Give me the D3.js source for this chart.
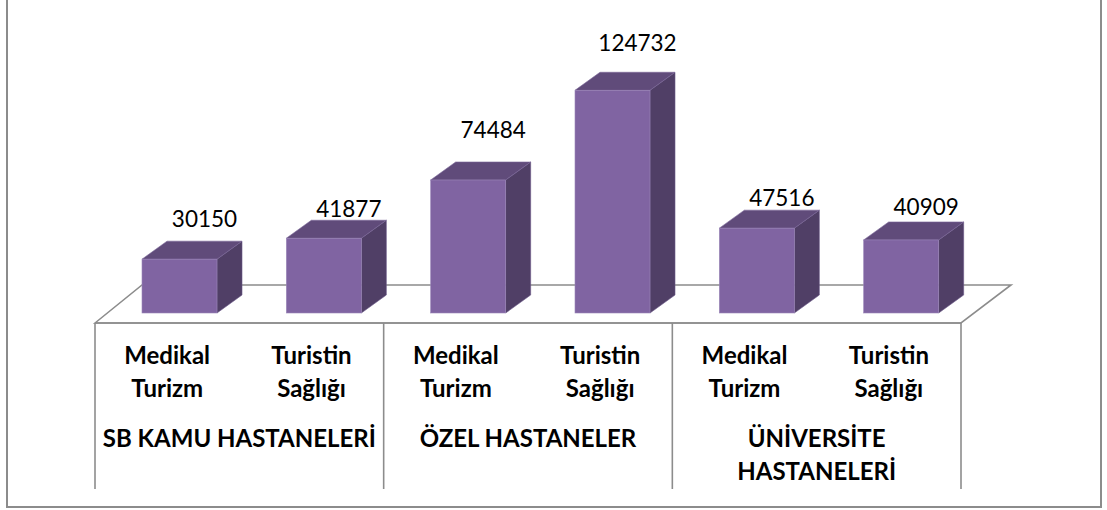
<!DOCTYPE html>
<html><head><meta charset="utf-8">
<script src="https://cdn.jsdelivr.net/npm/d3@7"></script>
<style>html,body{margin:0;padding:0;background:#fff;}svg{display:block;}</style>
</head><body>
<svg id="chart" width="1107" height="510"></svg>
<script>
// ---- data ----
const groups = ["SB KAMU HASTANELERİ", "ÖZEL HASTANELER", "ÜNİVERSİTE HASTANELERİ"];
const groupLines = [["SB KAMU HASTANELERİ"], ["ÖZEL HASTANELER"], ["ÜNİVERSİTE", "HASTANELERİ"]];
const subCategories = ["Medikal Turizm", "Turistin Sağlığı"];
const subLines = [["Medikal", "Turizm"], ["Turistin", "Sağlığı"]];
const values = [30150, 41877, 74484, 124732, 47516, 40909];

// ---- layout constants ----
const labelNudge = [14, 3, 24, 21, 4, 7]; // gap between bar top and label baseline (px)
const floorLeft = 95, floorRight = 961, floorFront = 323;
const depthX = 47, depthY = -38;
const barDX = 25, barDY = -18;
const baseY = 313;

const svg = d3.select("#chart");
const font = "Lato, 'Open Sans', sans-serif";

// outer frame
svg.append("path")
  .attr("d", `M7,-5 L7,507 L1101,507 L1101,-5`)
  .attr("fill", "none").attr("stroke", "#8c8c8c").attr("stroke-width", 2);

const cats = [];
groups.forEach((g, gi) => subCategories.forEach((s, si) => cats.push(gi + "|" + si)));

const x = d3.scaleBand().domain(cats).range([floorLeft, floorRight]).padding(0);
const xg = d3.scaleBand().domain(groups).range([floorLeft, floorRight]).padding(0);
const y = d3.scaleLinear().domain([0, 140000]).range([baseY, baseY - 140000 / 560]);

// floor
const floorColor = "#8c8c8c";
svg.append("path")
  .attr("d", `M${floorLeft},${floorFront} L${floorLeft + depthX},${floorFront + depthY} L${floorRight + depthX + 3},${floorFront + depthY} L${floorRight},${floorFront} Z`)
  .attr("fill", "#fff").attr("stroke", floorColor).attr("stroke-width", 1.6);

// bars
const bw = 75, barOffset = 47;
const bars = svg.append("g");
values.forEach((v, i) => {
  const x0 = x(cats[i]) + barOffset, x1 = x0 + bw;
  const yt = y(v), yb = y(0);
  const g = bars.append("g");
  g.append("path")
    .attr("d", `M${x1},${yt} L${x1 + barDX},${yt + barDY} L${x1 + barDX},${yb + barDY} L${x1},${yb} Z`)
    .attr("fill", "#503F66").attr("stroke", "#6a5888").attr("stroke-width", 0.6);
  g.append("path")
    .attr("d", `M${x0},${yt} L${x0 + barDX},${yt + barDY} L${x1 + barDX},${yt + barDY} L${x1},${yt} Z`)
    .attr("fill", "#604B7A").attr("stroke", "#7a6798").attr("stroke-width", 0.6);
  g.append("rect")
    .attr("x", x0).attr("y", yt).attr("width", bw).attr("height", yb - yt)
    .attr("fill", "#8064A2").attr("stroke", "#9a86b8").attr("stroke-width", 0.6);
  svg.append("text")
    .attr("x", (x0 + x1) / 2 + 25)
    .attr("y", yt + barDY - labelNudge[i])
    .attr("text-anchor", "middle")
    .attr("font-family", font).attr("font-size", 22.5).attr("fill", "#000")
    .text(v);
});

// front floor edge & dividers
const ax = svg.append("g");
ax.append("line").attr("x1", floorLeft).attr("x2", floorRight).attr("y1", floorFront).attr("y2", floorFront)
  .attr("stroke", floorColor).attr("stroke-width", 1.6);
const ticks = groups.map(g => xg(g)).concat([floorRight]);
ticks.forEach(t => {
  ax.append("line").attr("x1", t).attr("x2", t).attr("y1", floorFront).attr("y2", 489)
    .attr("stroke", floorColor).attr("stroke-width", 1.6);
});

// sub-category labels
cats.forEach((c, i) => {
  const si = i % 2;
  const t = ax.append("text")
    .attr("text-anchor", "middle")
    .attr("font-family", font).attr("font-weight", "bold").attr("font-size", 24).attr("fill", "#000");
  subLines[si].forEach((ln, li) => {
    t.append("tspan").attr("x", x(c) + x.bandwidth() / 2).attr("y", 364 + li * 33).text(ln);
  });
});

// group labels
groups.forEach((g, gi) => {
  const t = ax.append("text")
    .attr("text-anchor", "middle")
    .attr("font-family", font).attr("font-weight", "bold").attr("font-size", 24).attr("fill", "#000");
  groupLines[gi].forEach((ln, li) => {
    t.append("tspan").attr("x", xg(g) + xg.bandwidth() / 2).attr("y", 447 + li * 33).text(ln);
  });
});
</script>
</body></html>
